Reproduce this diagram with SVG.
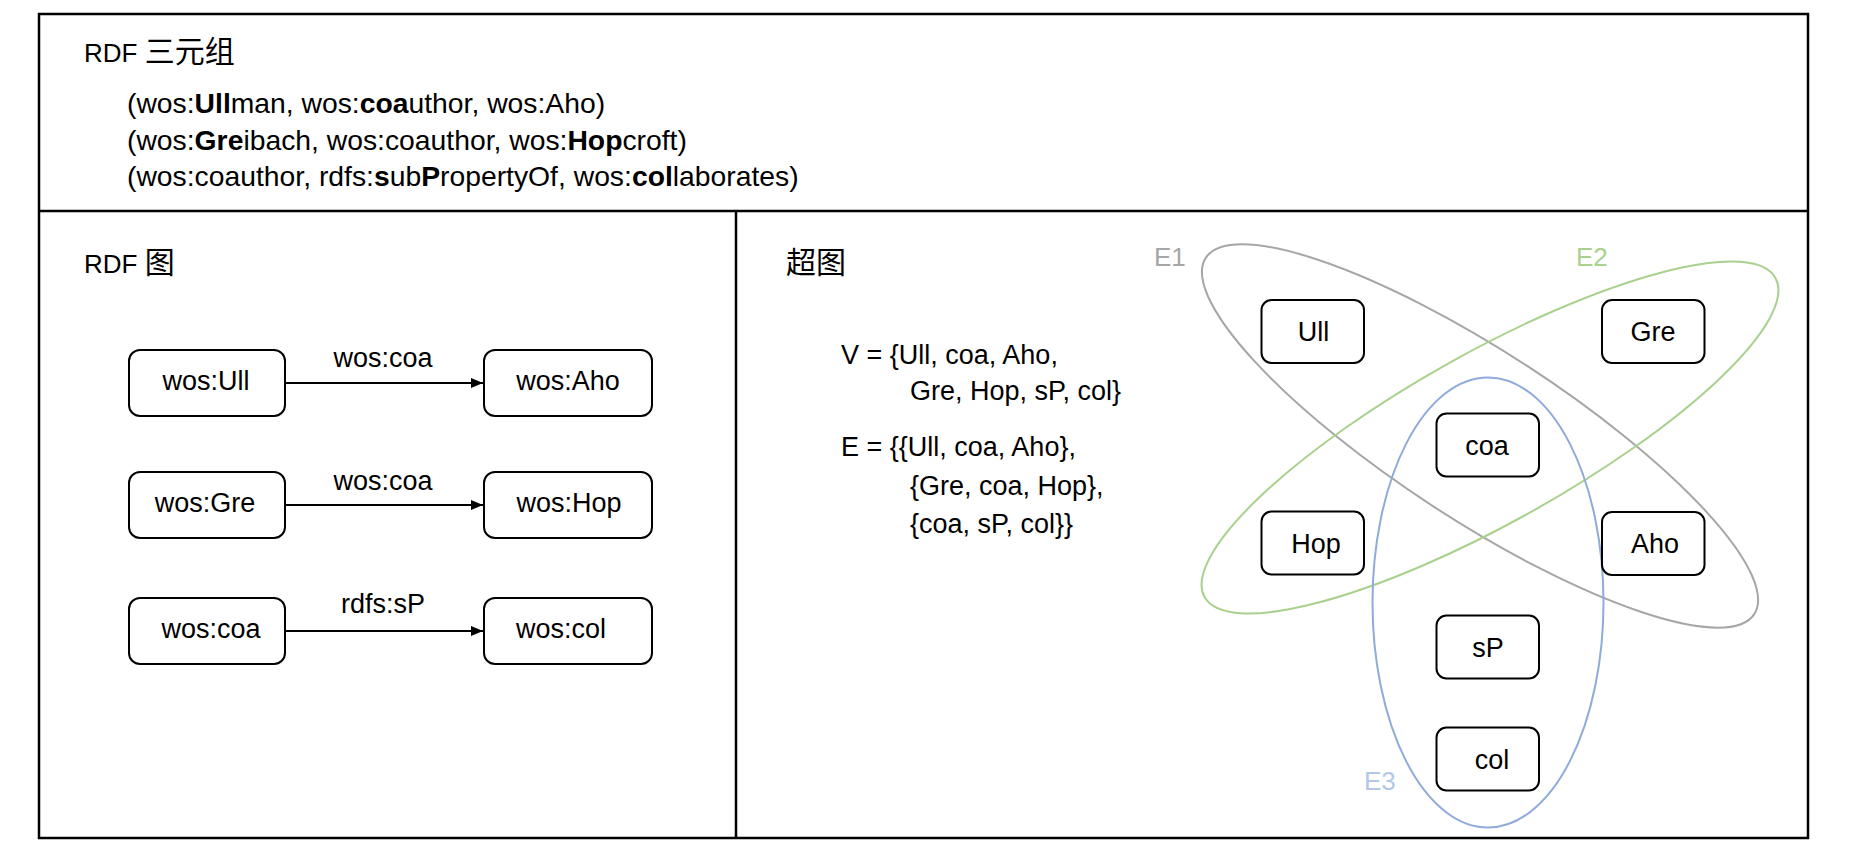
<svg xmlns="http://www.w3.org/2000/svg" width="1849" height="851" viewBox="0 0 1849 851">
<style>
  text { font-family: "Liberation Sans", "Noto Sans CJK SC", sans-serif; fill: #000; }
  .title { font-size: 26px; }
  .cjk { font-family: "Noto Sans CJK SC", sans-serif; font-size: 30px; }
  .triple { font-size: 28.3px; }
  .b { font-weight: bold; }
  .lbl { font-size: 27px; text-anchor: middle; }
  .set { font-size: 27px; }
  .node rect { fill: #fff; stroke: #000; stroke-width: 2; }
  .node text { font-size: 27px; text-anchor: middle; }
  .frame { fill: none; stroke: #000; stroke-width: 2.5; }
  .edge { stroke: #000; stroke-width: 2; fill: none; }
  .he { fill: none; stroke-width: 2; }
  .helbl { font-size: 26px; }
</style>
<defs>
  <marker id="arrow" markerUnits="userSpaceOnUse" markerWidth="12" markerHeight="10" refX="12" refY="5" orient="auto">
    <path d="M0,0 L12,5 L0,10 z" fill="#000"/>
  </marker>
</defs>
<rect width="1849" height="851" fill="#fff"/>

<!-- frame -->
<g id="frame">
  <rect class="frame" x="39" y="14" width="1769" height="824"/>
  <line class="frame" x1="39" y1="211" x2="1808" y2="211"/>
  <line class="frame" x1="736" y1="211" x2="736" y2="838"/>
</g>

<!-- RDF triples -->
<g id="triples">
  <text class="title" x="84" y="62">RDF <tspan class="cjk">三元组</tspan></text>
  <text class="triple" x="127" y="113">(wos:<tspan class="b">Ull</tspan>man, wos:<tspan class="b">coa</tspan>uthor, wos:Aho)</text>
  <text class="triple" x="127" y="149.5">(wos:<tspan class="b">Gre</tspan>ibach, wos:coauthor, wos:<tspan class="b">Hop</tspan>croft)</text>
  <text class="triple" x="127" y="186">(wos:coauthor, rdfs:<tspan class="b">s</tspan>ub<tspan class="b">P</tspan>ropertyOf, wos:<tspan class="b">col</tspan>laborates)</text>
</g>

<!-- RDF graph -->
<text class="title" x="84" y="273">RDF <tspan class="cjk">图</tspan></text>
<g id="rdf-connectors">
  <line class="edge" x1="286" y1="383" x2="483" y2="383" marker-end="url(#arrow)"/>
  <line class="edge" x1="286" y1="505" x2="483" y2="505" marker-end="url(#arrow)"/>
  <line class="edge" x1="286" y1="631" x2="483" y2="631" marker-end="url(#arrow)"/>
  <text class="lbl" x="383" y="367">wos:coa</text>
  <text class="lbl" x="383" y="490">wos:coa</text>
  <text class="lbl" x="383" y="613">rdfs:sP</text>
</g>
<g id="rdf-ull" class="node"><rect x="129" y="350" width="156" height="66" rx="11"/><text x="206" y="389.5">wos:Ull</text></g>
<g id="rdf-aho" class="node"><rect x="484" y="350" width="168" height="66" rx="11"/><text x="568" y="389.5">wos:Aho</text></g>
<g id="rdf-gre" class="node"><rect x="129" y="472" width="156" height="66" rx="11"/><text x="205" y="511.5">wos:Gre</text></g>
<g id="rdf-hop" class="node"><rect x="484" y="472" width="168" height="66" rx="11"/><text x="569" y="511.5">wos:Hop</text></g>
<g id="rdf-coa" class="node"><rect x="129" y="598" width="156" height="66" rx="11"/><text x="211" y="637.5">wos:coa</text></g>
<g id="rdf-col" class="node"><rect x="484" y="598" width="168" height="66" rx="11"/><text x="561" y="637.5">wos:col</text></g>

<!-- Hypergraph -->
<text class="cjk" x="786" y="273">超图</text>
<g id="sets">
  <text class="set" x="841" y="364">V = {Ull, coa, Aho,</text>
  <text class="set" x="910" y="400">Gre, Hop, sP, col}</text>
  <text class="set" x="841" y="456">E = {{Ull, coa, Aho},</text>
  <text class="set" x="910" y="495">{Gre, coa, Hop},</text>
  <text class="set" x="910" y="533">{coa, sP, col}}</text>
</g>
<g id="hyperedges">
  <ellipse class="he" stroke="#a6a6a6" cx="1480" cy="436" rx="327" ry="84.5" transform="rotate(33 1480 436)"/>
  <ellipse class="he" stroke="#a9d18e" cx="1490" cy="437.5" rx="327" ry="85" transform="rotate(-29.2 1490 437.5)"/>
  <ellipse class="he" stroke="#8faadc" cx="1488" cy="602.5" rx="115.5" ry="225"/>
  <text class="helbl" x="1154" y="266" style="fill:#a6a6a6">E1</text>
  <text class="helbl" x="1576" y="266" style="fill:#a9d18e">E2</text>
  <text class="helbl" x="1364" y="790" style="fill:#b4c7e7">E3</text>
</g>
<g id="h-ull" class="node"><rect x="1261.5" y="300" width="102.5" height="63" rx="10"/><text x="1313.5" y="341">Ull</text></g>
<g id="h-gre" class="node"><rect x="1602" y="300" width="102.5" height="63" rx="10"/><text x="1653" y="341">Gre</text></g>
<g id="h-coa" class="node"><rect x="1436.5" y="413.5" width="102.5" height="63" rx="10"/><text x="1487" y="454.5">coa</text></g>
<g id="h-hop" class="node"><rect x="1261.5" y="511.5" width="102.5" height="63" rx="10"/><text x="1316" y="552.5">Hop</text></g>
<g id="h-aho" class="node"><rect x="1602" y="512" width="102.5" height="63" rx="10"/><text x="1655" y="553">Aho</text></g>
<g id="h-sp" class="node"><rect x="1436.5" y="615.5" width="102.5" height="63" rx="10"/><text x="1488" y="656.5">sP</text></g>
<g id="h-col" class="node"><rect x="1436.5" y="727.5" width="102.5" height="63" rx="10"/><text x="1492" y="768.5">col</text></g>
</svg>
